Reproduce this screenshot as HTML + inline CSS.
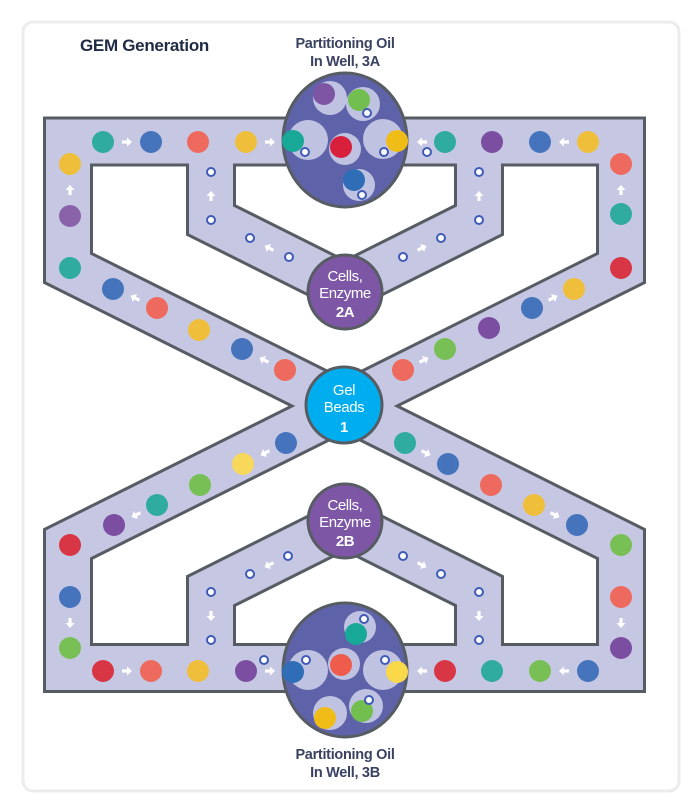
<!DOCTYPE html>
<html><head><meta charset="utf-8"><style>
html,body{margin:0;padding:0;background:#fff;}
svg{display:block;}
text{font-family:"Liberation Sans",sans-serif;}
</style></head><body>
<svg width="695" height="808" viewBox="0 0 695 808" xmlns="http://www.w3.org/2000/svg">
<defs>
<path id="ar" d="M-5,-1.6 H0 V-4.5 L5,0 L0,4.5 V1.6 H-5 Z" fill="#fff"/>
</defs>
<rect x="23" y="22" width="656" height="769" rx="10" fill="#fff" stroke="#ececec" stroke-width="3"/>
<text x="80" y="51" font-size="17" font-weight="bold" fill="#1f2a44" letter-spacing="-0.3">GEM Generation</text>
<text x="345" y="48" font-size="14.5" font-weight="bold" fill="#3a4262" text-anchor="middle" letter-spacing="-0.3">Partitioning Oil</text>
<text x="345" y="66" font-size="14.5" font-weight="bold" fill="#3a4262" text-anchor="middle" letter-spacing="-0.3">In Well, 3A</text>
<text x="345" y="759" font-size="14.5" font-weight="bold" fill="#3a4262" text-anchor="middle" letter-spacing="-0.3">Partitioning Oil</text>
<text x="345" y="777" font-size="14.5" font-weight="bold" fill="#3a4262" text-anchor="middle" letter-spacing="-0.3">In Well, 3B</text>

<g fill="none" stroke-linejoin="miter" stroke-miterlimit="10">
<g stroke="#575c63" stroke-width="50">
<path d="M68,141.5 H621 V268 L68,544 V668 H621 V544 L68,268 Z"/>
<path d="M211,141.5 V220 L345,287 L479,220 V141.5"/>
<path d="M211,668 V591 L345,524 L479,591 V668"/>
</g>
<g stroke="#c6c8e3" stroke-width="44">
<path d="M68,141.5 H621 V268 L68,544 V668 H621 V544 L68,268 Z"/>
<path d="M211,141.5 V220 L345,287 L479,220 V141.5"/>
<path d="M211,668 V591 L345,524 L479,591 V668"/>
</g>
</g>

<!-- wells -->
<ellipse cx="345" cy="140" rx="62" ry="67" fill="#5e63a9" stroke="#575c63" stroke-width="3"/>
<ellipse cx="345" cy="670" rx="62" ry="67" fill="#5e63a9" stroke="#575c63" stroke-width="3"/>
<g fill="#c0c2e2">
<circle cx="330" cy="98" r="17"/><circle cx="363" cy="104" r="17"/><circle cx="308" cy="140" r="20"/>
<circle cx="345" cy="149" r="16"/><circle cx="383" cy="139" r="20"/><circle cx="359" cy="185" r="16"/>
<circle cx="360" cy="627" r="16"/><circle cx="308" cy="670" r="20"/><circle cx="344" cy="664" r="16"/>
<circle cx="383" cy="670" r="20"/><circle cx="330" cy="713" r="17"/><circle cx="366" cy="706" r="17"/>
</g>

<!-- dots -->
<g>
<circle cx="324" cy="94" r="11" fill="#7d55a3"/><circle cx="359" cy="100" r="11" fill="#72bf4f"/>
<circle cx="293" cy="141" r="11" fill="#17a898"/><circle cx="341" cy="147" r="11" fill="#d81f3c"/>
<circle cx="397" cy="141" r="11" fill="#f0bd18"/><circle cx="354" cy="180" r="11" fill="#2f6db6"/>
<circle cx="356" cy="634" r="11" fill="#17a898"/><circle cx="293" cy="672" r="11" fill="#2f6db6"/>
<circle cx="341" cy="665" r="11" fill="#ef5c4c"/><circle cx="397" cy="672" r="11" fill="#f9d94a"/>
<circle cx="325" cy="718" r="11" fill="#f0bd18"/><circle cx="362" cy="711" r="11" fill="#72bf4f"/>
</g>
<g>
<circle cx="103" cy="142" r="11" fill="#30ab9f"/><circle cx="151" cy="142" r="11" fill="#4574bd"/>
<circle cx="198" cy="142" r="11" fill="#ee6a5f"/><circle cx="246" cy="142" r="11" fill="#efbf3c"/>
<circle cx="445" cy="142" r="11" fill="#30ab9f"/><circle cx="492" cy="142" r="11" fill="#7b4ea1"/>
<circle cx="540" cy="142" r="11" fill="#4574bd"/><circle cx="588" cy="142" r="11" fill="#efbf3c"/>
<circle cx="70" cy="164" r="11" fill="#efbf3c"/><circle cx="70" cy="216" r="11" fill="#8a62aa"/>
<circle cx="70" cy="268" r="11" fill="#30ab9f"/>
<circle cx="621" cy="164" r="11" fill="#ee6a5f"/><circle cx="621" cy="214" r="11" fill="#30ab9f"/>
<circle cx="621" cy="268" r="11" fill="#d83545"/>
<circle cx="113" cy="289" r="11" fill="#4574bd"/><circle cx="157" cy="308" r="11" fill="#ee6a5f"/>
<circle cx="199" cy="330" r="11" fill="#efbf3c"/><circle cx="242" cy="349" r="11" fill="#4574bd"/>
<circle cx="285" cy="370" r="11" fill="#ee6a5f"/>
<circle cx="403" cy="370" r="11" fill="#ee6a5f"/><circle cx="445" cy="349" r="11" fill="#78bf56"/>
<circle cx="489" cy="328" r="11" fill="#7b4ea1"/><circle cx="532" cy="308" r="11" fill="#4574bd"/>
<circle cx="574" cy="289" r="11" fill="#efbf3c"/>
<circle cx="286" cy="443" r="11" fill="#4574bd"/><circle cx="243" cy="464" r="11" fill="#f8d85a"/>
<circle cx="200" cy="485" r="11" fill="#78bf56"/><circle cx="157" cy="505" r="11" fill="#30ab9f"/>
<circle cx="114" cy="525" r="11" fill="#7b4ea1"/><circle cx="70" cy="545" r="11" fill="#d83545"/>
<circle cx="405" cy="443" r="11" fill="#30ab9f"/><circle cx="448" cy="464" r="11" fill="#4574bd"/>
<circle cx="491" cy="485" r="11" fill="#ee6a5f"/><circle cx="534" cy="505" r="11" fill="#efbf3c"/>
<circle cx="577" cy="525" r="11" fill="#4574bd"/><circle cx="621" cy="545" r="11" fill="#78bf56"/>
<circle cx="70" cy="597" r="11" fill="#4574bd"/><circle cx="70" cy="648" r="11" fill="#78bf56"/>
<circle cx="621" cy="597" r="11" fill="#ee6a5f"/><circle cx="621" cy="648" r="11" fill="#7b4ea1"/>
<circle cx="103" cy="671" r="11" fill="#d83545"/><circle cx="151" cy="671" r="11" fill="#ee6a5f"/>
<circle cx="198" cy="671" r="11" fill="#efbf3c"/><circle cx="246" cy="671" r="11" fill="#7b4ea1"/>
<circle cx="445" cy="671" r="11" fill="#d83545"/><circle cx="492" cy="671" r="11" fill="#30ab9f"/>
<circle cx="540" cy="671" r="11" fill="#78bf56"/><circle cx="588" cy="671" r="11" fill="#4574bd"/>
</g>

<!-- rings -->
<g fill="#fff" stroke="#3f5bb5" stroke-width="2">
<circle cx="367" cy="113" r="4"/><circle cx="305" cy="152" r="4"/><circle cx="384" cy="152" r="4"/>
<circle cx="362" cy="195" r="4"/><circle cx="427" cy="152" r="4"/>
<circle cx="211" cy="172" r="4"/><circle cx="211" cy="220" r="4"/><circle cx="250" cy="238" r="4"/><circle cx="289" cy="257" r="4"/>
<circle cx="479" cy="172" r="4"/><circle cx="479" cy="220" r="4"/><circle cx="441" cy="238" r="4"/><circle cx="403" cy="257" r="4"/>
<circle cx="211" cy="640" r="4"/><circle cx="211" cy="592" r="4"/><circle cx="250" cy="574" r="4"/><circle cx="288" cy="556" r="4"/>
<circle cx="479" cy="640" r="4"/><circle cx="479" cy="592" r="4"/><circle cx="441" cy="574" r="4"/><circle cx="403" cy="556" r="4"/>
<circle cx="264" cy="660" r="4"/><circle cx="306" cy="660" r="4"/><circle cx="385" cy="660" r="4"/>
<circle cx="364" cy="619" r="4"/><circle cx="369" cy="700" r="4"/>
</g>

<!-- arrows -->
<use href="#ar" transform="translate(127,142)"/>
<use href="#ar" transform="translate(270,142)"/>
<use href="#ar" transform="translate(422,142) rotate(180)"/>
<use href="#ar" transform="translate(564,142) rotate(180)"/>
<use href="#ar" transform="translate(70,190) rotate(-90)"/>
<use href="#ar" transform="translate(621,190) rotate(-90)"/>
<use href="#ar" transform="translate(211,196) rotate(-90)"/>
<use href="#ar" transform="translate(479,196) rotate(-90)"/>
<use href="#ar" transform="translate(269,248) rotate(-153)"/>
<use href="#ar" transform="translate(422,248) rotate(-27)"/>
<use href="#ar" transform="translate(135,298) rotate(-153)"/>
<use href="#ar" transform="translate(264,360) rotate(-153)"/>
<use href="#ar" transform="translate(424,360) rotate(-27)"/>
<use href="#ar" transform="translate(553,298) rotate(-27)"/>
<use href="#ar" transform="translate(265,453) rotate(153)"/>
<use href="#ar" transform="translate(136,515) rotate(153)"/>
<use href="#ar" transform="translate(426,453) rotate(27)"/>
<use href="#ar" transform="translate(555,515) rotate(27)"/>
<use href="#ar" transform="translate(269,565) rotate(153)"/>
<use href="#ar" transform="translate(422,565) rotate(27)"/>
<use href="#ar" transform="translate(211,616) rotate(90)"/>
<use href="#ar" transform="translate(479,616) rotate(90)"/>
<use href="#ar" transform="translate(70,623) rotate(90)"/>
<use href="#ar" transform="translate(621,623) rotate(90)"/>
<use href="#ar" transform="translate(127,671)"/>
<use href="#ar" transform="translate(270,671)"/>
<use href="#ar" transform="translate(422,671) rotate(180)"/>
<use href="#ar" transform="translate(564,671) rotate(180)"/>

<!-- nodes -->
<circle cx="345" cy="292" r="37" fill="#7d57a6" stroke="#575c63" stroke-width="3"/>
<circle cx="344" cy="405" r="38" fill="#00aeef" stroke="#575c63" stroke-width="3"/>
<circle cx="345" cy="521" r="37" fill="#7d57a6" stroke="#575c63" stroke-width="3"/>
<g fill="#fff" font-size="15" text-anchor="middle" letter-spacing="-0.4">
<text x="345" y="281">Cells,</text><text x="345" y="298">Enzyme</text><text x="345" y="317" font-weight="bold">2A</text>
<text x="344" y="395">Gel</text><text x="344" y="412">Beads</text><text x="344" y="432" font-weight="bold">1</text>
<text x="345" y="510">Cells,</text><text x="345" y="527">Enzyme</text><text x="345" y="546" font-weight="bold">2B</text>
</g>
</svg>
</body></html>
